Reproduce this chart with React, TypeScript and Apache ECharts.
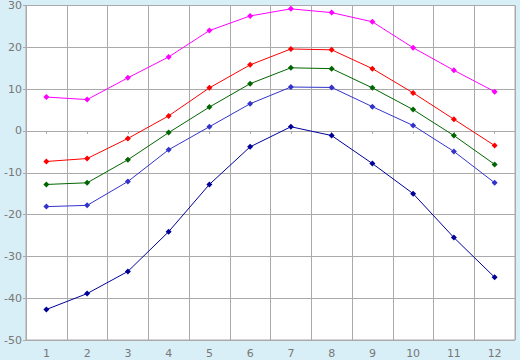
import React, { useEffect, useRef } from "react";
import * as echarts from "echarts";

const categories = ["1", "2", "3", "4", "5", "6", "7", "8", "9", "10", "11", "12"];
const magentaValues = [8.1, 7.5, 12.7, 17.7, 24.0, 27.5, 29.2, 28.3, 26.1, 19.9, 14.5, 9.4];
const redValues = [-7.3, -6.6, -1.8, 3.6, 10.3, 15.8, 19.6, 19.4, 14.9, 9.1, 2.8, -3.5];
const greenValues = [-12.8, -12.4, -6.9, -0.4, 5.7, 11.3, 15.1, 14.9, 10.3, 5.1, -1.1, -8.0];
const blueValues = [-18.1, -17.8, -12.1, -4.5, 1.0, 6.5, 10.5, 10.4, 5.8, 1.3, -4.9, -12.4];
const navyValues = [-42.7, -38.9, -33.6, -24.1, -12.8, -3.8, 1.0, -1.1, -7.8, -15.0, -25.5, -35.0];

const seriesDefs = [
  { name: "A", data: magentaValues, color: "#ff00ff" },
  { name: "B", data: redValues, color: "#ff0000" },
  { name: "C", data: greenValues, color: "#006600" },
  { name: "D", data: blueValues, color: "#3333cc" },
  { name: "E", data: navyValues, color: "#000099" },
];

export default function App() {
  const ref = useRef<HTMLDivElement>(null);
  useEffect(() => {
    if (!ref.current) return;
    const chart = echarts.init(ref.current, null, { renderer: "svg" });
    const labelStyle = { color: "#777777", fontFamily: "DejaVu Sans", fontSize: 11 };
    chart.setOption({
      animation: false,
      backgroundColor: "#d9eff7",
      grid: {
        left: 26,
        right: 5,
        top: 5,
        bottom: 20,
        show: true,
        backgroundColor: "#ffffff",
        borderColor: "#aaaaaa",
        borderWidth: 1,
      },
      xAxis: {
        type: "category",
        data: categories,
        boundaryGap: true,
        axisLine: { lineStyle: { color: "#aaaaaa" } },
        axisTick: { show: true, alignWithLabel: true, length: 3, lineStyle: { color: "#aaaaaa" } },
        axisLabel: { ...labelStyle, margin: 8 },
        splitLine: { show: true, interval: 0, lineStyle: { color: "#aaaaaa", width: 1 } },
      },
      yAxis: {
        type: "value",
        min: -50,
        max: 30,
        interval: 10,
        axisLine: { show: true, lineStyle: { color: "#aaaaaa" } },
        axisTick: { show: true, length: 3, lineStyle: { color: "#aaaaaa" } },
        axisLabel: { ...labelStyle, margin: 4 },
        splitLine: { show: true, lineStyle: { color: "#aaaaaa", width: 1 } },
      },
      series: seriesDefs.map((s) => ({
        name: s.name,
        type: "line",
        data: s.data,
        symbol: "diamond",
        symbolSize: 6,
        lineStyle: { color: s.color, width: 1 },
        itemStyle: { color: s.color },
      })),
    });
    return () => chart.dispose();
  }, []);
  return <div ref={ref} style={{ width: 520, height: 360, position: "fixed", left: 0, top: 0 }} />;
}
